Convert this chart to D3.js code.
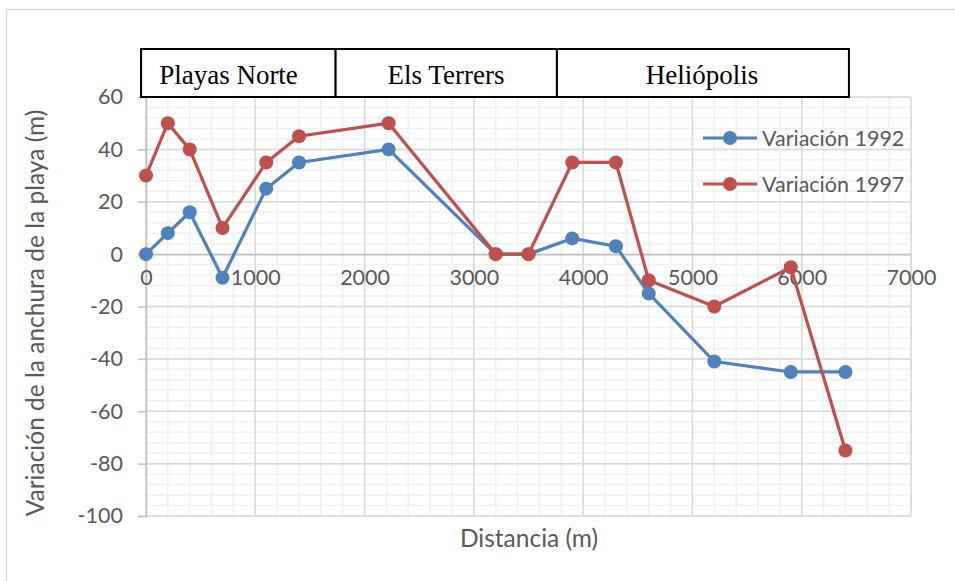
<!DOCTYPE html>
<html>
<head>
<meta charset="utf-8">
<script src="https://cdn.jsdelivr.net/npm/d3@7"></script>
<style>
  html, body { margin: 0; padding: 0; background: #fff; }
  svg { display: block; }
</style>
</head>
<body>
<svg id="chart" width="955" height="581"></svg>
<script>
// ---- data ----
const distances1992 = [0, 200, 400, 700, 1100, 1400, 2220, 3200, 3500, 3900, 4300, 4600, 5200, 5900, 6400];
const values1992    = [0, 8, 16, -9, 25, 35, 40, 0, 0, 6, 3, -15, -41, -45, -45];
const distances1997 = [0, 200, 400, 700, 1100, 1400, 2220, 3200, 3500, 3900, 4300, 4600, 5200, 5900, 6400];
const values1997    = [30, 50, 40, 10, 35, 45, 50, 0, 0, 35, 35, -10, -20, -5, -75];
const seriesNames   = ["Variación 1992", "Variación 1997"];
const seriesColors  = ["#4F81BD", "#C0504D"];
const xTicks = [0, 1000, 2000, 3000, 4000, 5000, 6000, 7000];
const yTicks = [-100, -80, -60, -40, -20, 0, 20, 40, 60];
const zoneNames  = ["Playas Norte", "Els Terrers", "Heliópolis"];
const zoneBounds = [[-45, 1735], [1735, 3760], [3760, 6432]]; // distance units spanned by each header box
const zoneLabelAt = [755, 2745, 5087];                          // label centres, distance units
const xTitle = "Distancia (m)";
const yTitle = "Variación de la anchura de la playa (m)";

const svg = d3.select("#chart");
const sans = "Lato, 'Open Sans', sans-serif";
const tickFmt = d => String(d);

// outer chart border
svg.append("rect").attr("x", 6.5).attr("y", 9.5).attr("width", 960).attr("height", 600)
  .attr("fill", "none").attr("stroke", "#d9d9d9").attr("stroke-width", 1.5);

const x = d3.scaleLinear().domain([0, 7000]).range([146, 911]);
const y = d3.scaleLinear().domain([-100, 60]).range([516, 97]);

// minor grid
const g = svg.append("g");
g.selectAll(".vminor").data(d3.range(0, 7001, 200)).join("line")
  .attr("x1", d => x(d)).attr("x2", d => x(d)).attr("y1", y(60)).attr("y2", y(-100))
  .attr("stroke", "#f0f0f0").attr("stroke-width", 1.5);
g.selectAll(".hminor").data(d3.range(-100, 61, 4)).join("line")
  .attr("x1", x(0)).attr("x2", x(7000)).attr("y1", d => y(d)).attr("y2", d => y(d))
  .attr("stroke", "#f0f0f0").attr("stroke-width", 1.5);
// major grid
g.selectAll(".vmajor").data(xTicks).join("line")
  .attr("x1", d => x(d)).attr("x2", d => x(d)).attr("y1", y(60)).attr("y2", y(-100))
  .attr("stroke", "#d9d9d9").attr("stroke-width", 1.5);
g.selectAll(".hmajor").data(yTicks).join("line")
  .attr("x1", x(0)).attr("x2", x(7000)).attr("y1", d => y(d)).attr("y2", d => y(d))
  .attr("stroke", "#d9d9d9").attr("stroke-width", 1.5);

// y axis
const yAxis = svg.append("g").attr("transform", `translate(${x(0)},0)`)
  .call(d3.axisLeft(y).tickValues(yTicks).tickSize(8).tickPadding(15).tickFormat(tickFmt));
yAxis.select(".domain").attr("stroke", "#bfbfbf").attr("stroke-width", 1.5);
yAxis.selectAll(".tick line").attr("stroke", "#bfbfbf").attr("stroke-width", 1.5);
yAxis.selectAll("text").attr("font-family", sans).attr("font-size", 21.5).attr("fill", "#595959");

// x axis at y = 0
const xAxis = svg.append("g").attr("transform", `translate(0,${y(0)})`)
  .call(d3.axisBottom(x).tickValues(xTicks).tickSize(0).tickPadding(16).tickFormat(tickFmt));
xAxis.select(".domain").attr("stroke", "#bfbfbf").attr("stroke-width", 1.5);
xAxis.selectAll("text").attr("font-family", sans).attr("font-size", 21.5).attr("fill", "#595959");

// header boxes
const hb = svg.append("g");
zoneNames.forEach((name, i) => {
  const [a, b] = zoneBounds[i];
  hb.append("rect").attr("x", x(a)).attr("y", 49).attr("width", x(b) - x(a)).attr("height", 48)
    .attr("fill", "#fff").attr("stroke", "#000").attr("stroke-width", 2);
  hb.append("text").attr("x", x(zoneLabelAt[i])).attr("y", 84)
    .attr("text-anchor", "middle").attr("font-family", "'Liberation Serif', 'Times New Roman', serif")
    .attr("font-size", 27).attr("fill", "#000").text(name);
});

// series
const series = [
  { name: seriesNames[0], color: seriesColors[0], pts: distances1992.map((d, i) => [d, values1992[i]]) },
  { name: seriesNames[1], color: seriesColors[1], pts: distances1997.map((d, i) => [d, values1997[i]]) }
];
const line = d3.line().x(d => x(d[0])).y(d => y(d[1]));
series.forEach(s => {
  svg.append("path").attr("d", line(s.pts)).attr("fill", "none")
    .attr("stroke", s.color).attr("stroke-width", 3.2).attr("stroke-linejoin", "round");
  svg.append("g").selectAll("circle").data(s.pts).join("circle")
    .attr("cx", d => x(d[0])).attr("cy", d => y(d[1])).attr("r", 7)
    .attr("fill", s.color);
});

// legend
series.forEach((s, i) => {
  const ly = 138 + i * 46;
  svg.append("line").attr("x1", 703).attr("x2", 757).attr("y1", ly).attr("y2", ly)
    .attr("stroke", s.color).attr("stroke-width", 3.2);
  svg.append("circle").attr("cx", 730).attr("cy", ly).attr("r", 7).attr("fill", s.color);
  svg.append("text").attr("x", 762).attr("y", ly).attr("dy", "0.35em")
    .attr("font-family", sans).attr("font-size", 21.5).attr("fill", "#595959").text(s.name);
});

// axis titles
svg.append("text").attr("x", 529).attr("y", 538).attr("dy", "0.35em").attr("text-anchor", "middle")
  .attr("font-family", sans).attr("font-size", 24.5).attr("fill", "#595959").text(xTitle);
svg.append("text").attr("transform", "translate(35,313) rotate(-90)").attr("dy", "0.35em")
  .attr("text-anchor", "middle").attr("font-family", sans).attr("font-size", 24.5)
  .attr("fill", "#595959").text(yTitle);
</script>
</body>
</html>
